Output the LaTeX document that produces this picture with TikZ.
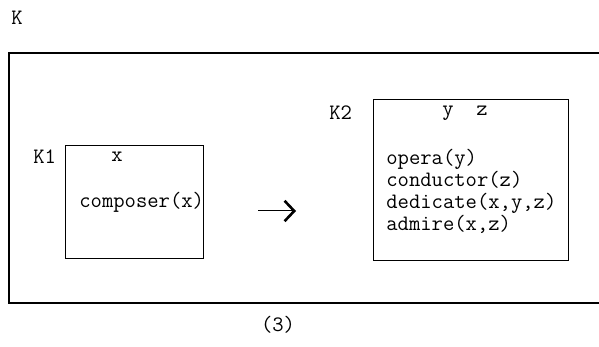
\documentclass[tikz,border=0pt]{standalone}
\usepackage{tikz}
\usetikzlibrary{arrows.meta,positioning,calc}

\begin{document}
\begin{tikzpicture}[
  x=0.5pt,y=-0.5pt,
  every node/.style={font=\ttfamily\fontsize{11}{11}\selectfont,inner sep=0pt},
  fr/.style={line width=0.7pt},
  bx/.style={draw,line width=0.7pt,anchor=north west},
  ar/.style={-{Straight Barb[length=1.7mm,width=3.6mm,line width=1.3pt]},line width=0.5pt}]
  \useasboundingbox (0,0) rectangle (599,347);
  % outer context, open on the right
  \node[anchor=west] (K) at (11,18) {K};
  \draw[fr] (599,53) -| (9,303) -- (599,303);
  % first sub-box
  \node[bx,minimum width=69pt,minimum height=56.5pt] (K1box) at (65,145) {};
  \node[anchor=west] (K1) at (33,157) {K1};
  \node (x) at (117,157) {x};
  \node[anchor=west] (comp) at (79,202) {composer(x)};
  % second sub-box
  \node[bx,minimum width=97.5pt,minimum height=80.5pt] (K2box) at (373,99) {};
  \node[anchor=west] (K2) at (329,113) {K2};
  \node (yz) at (465,113) {y\ \ z};
  \node[anchor=west,align=left] (conds) at (386,191.5)
    {opera(y)\\conductor(z)\\dedicate(x,y,z)\\admire(x,z)};
  % arrow between the boxes
  \coordinate (a0) at (258,211);
  \coordinate (a1) at (296,211);
  \draw[ar] (a0) -- (a1);
  \node (num) at (278,325) {(3)};
\end{tikzpicture}
\end{document}
